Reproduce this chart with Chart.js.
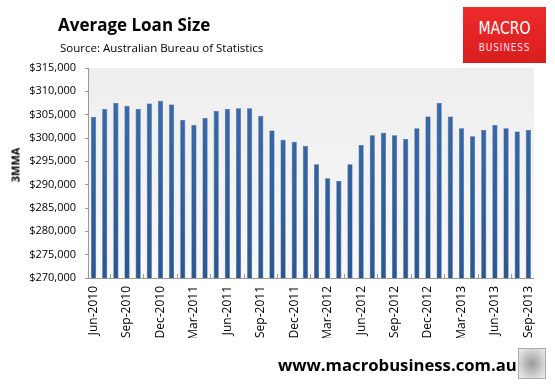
<!DOCTYPE html>
<html>
<head>
<meta charset="utf-8">
<script src="https://cdn.jsdelivr.net/npm/chart.js@4.4.1/dist/chart.umd.min.js"></script>
<style>
  html, body { margin: 0; padding: 0; background: #fff; }
  #wrap { position: relative; width: 555px; height: 387px; overflow: hidden; font-family: "Open Sans", sans-serif; }
  #chart { position: absolute; left: 0; top: 0; }
  .title { position: absolute; left: 58px; top: 13px; font-size: 17px; font-weight: bold; color: #000; line-height: 24px; }
  .sub { position: absolute; left: 60px; top: 40px; font-size: 11.5px; color: #000; line-height: 16px; }
  .logo { position: absolute; left: 463px; top: 7px; width: 83px; height: 56px; background: linear-gradient(#ee2b2b, #d81e1e); color: #fff; text-align: center; font-family: "DejaVu Sans Condensed", "DejaVu Sans", sans-serif; }
  .logo .m { font-size: 17px; line-height: 18px; margin-top: 12px; transform: scaleX(0.92); }
  .logo .b { font-size: 10px; line-height: 12px; margin-top: 5px; letter-spacing: 0.8px; color: #fde; }
  .foot { position: absolute; left: 278px; top: 353px; font-size: 16.7px; font-weight: bold; color: #000; line-height: 24px; }
  .wolf { position: absolute; left: 518px; top: 348px; width: 26px; height: 29px; border: 1px solid #aaa; background: radial-gradient(#9a9a9a, #d8d8d8 70%, #eee); }
  .ytitle { position: absolute; left: 15px; top: 165px; transform: translate(-50%, -50%) rotate(-90deg); font-size: 11px; font-weight: bold; color: #000; white-space: nowrap; }
</style>
</head>
<body>
<div id="wrap">
  <canvas id="chart" width="555" height="387"></canvas>
  <div class="title">Average Loan Size</div>
  <div class="sub">Source: Australian Bureau of Statistics</div>
  <div class="logo"><div class="m">MACRO</div><div class="b">BUSINESS</div></div>
  <div class="ytitle">3MMA</div>
  <div class="foot">www.macrobusiness.com.au</div>
  <div class="wolf"></div>
</div>
<script>
// Monthly categories Jun-2010 .. Sep-2013
const months = [
  'Jun-2010','Jul-2010','Aug-2010','Sep-2010','Oct-2010','Nov-2010','Dec-2010',
  'Jan-2011','Feb-2011','Mar-2011','Apr-2011','May-2011','Jun-2011','Jul-2011','Aug-2011','Sep-2011','Oct-2011','Nov-2011','Dec-2011',
  'Jan-2012','Feb-2012','Mar-2012','Apr-2012','May-2012','Jun-2012','Jul-2012','Aug-2012','Sep-2012','Oct-2012','Nov-2012','Dec-2012',
  'Jan-2013','Feb-2013','Mar-2013','Apr-2013','May-2013','Jun-2013','Jul-2013','Aug-2013','Sep-2013'
];

// Average loan size, 3 month moving average ($)
const loanSize = [
  304500, 306200, 307500, 306900, 306200, 307400, 308000,
  307200, 303900, 302800, 304300, 305800, 306200, 306400, 306400, 304700, 301600, 299600, 299200,
  298300, 294400, 291400, 290800, 294400, 298500, 300600, 301100, 300600, 299800, 302100, 304600,
  307500, 304600, 302100, 300400, 301700, 302800, 302100, 301400, 301700
];

const yMin = 270000;
const yMax = 315000;
const yStep = 5000;

const plotBg = {
  id: 'plotBg',
  beforeDraw(chart) {
    const { ctx, chartArea: a } = chart;
    const g = ctx.createLinearGradient(0, a.top, 0, a.bottom);
    g.addColorStop(0, '#eeeeee');
    g.addColorStop(1, '#f8f8f8');
    ctx.save();
    ctx.fillStyle = g;
    ctx.fillRect(a.left, a.top, a.right - a.left, a.bottom - a.top);
    ctx.restore();
  }
};

const ctx = document.getElementById('chart').getContext('2d');
new Chart(ctx, {
  type: 'bar',
  data: {
    labels: months,
    datasets: [{
      data: loanSize,
      backgroundColor: (c) => {
        const area = c.chart.chartArea;
        if (!area) return '#3464a3';
        const g = c.chart.ctx.createLinearGradient(0, area.top, 0, area.bottom);
        g.addColorStop(0, '#3b6db0');
        g.addColorStop(1, '#2b5791');
        return g;
      },
      borderColor: '#26497a',
      borderWidth: 0.5,
      categoryPercentage: 1,
      barPercentage: 0.46
    }]
  },
  plugins: [plotBg],
  options: {
    responsive: false,
    animation: false,
    layout: { padding: { left: 0, right: 20, top: 68, bottom: 49 } },
    plugins: { legend: { display: false }, tooltip: { enabled: false } },
    scales: {
      x: {
        offset: true,
        afterFit: (s) => { s.height = 60; },
        grid: { display: true, drawOnChartArea: false, offset: true, color: '#999', tickLength: -4 },
        border: { color: '#999' },
        ticks: {
          autoSkip: false,
          maxRotation: 90,
          minRotation: 90,
          color: '#000',
          font: { family: 'Open Sans', size: 12 },
          padding: 12,
          callback: (v, i) => (i % 3 === 0 ? months[i] : null)
        }
      },
      y: {
        min: yMin,
        max: yMax,
        afterFit: (s) => { s.width = 88; },
        grid: { display: true, drawOnChartArea: false, color: '#999', tickLength: 3 },
        border: { color: '#999' },
        ticks: {
          stepSize: yStep,
          color: '#000',
          font: { family: 'Open Sans', size: 11 },
          padding: 9,
          callback: (v) => '$' + v.toLocaleString('en-US')
        }
      }
    }
  }
});
</script>
</body>
</html>
